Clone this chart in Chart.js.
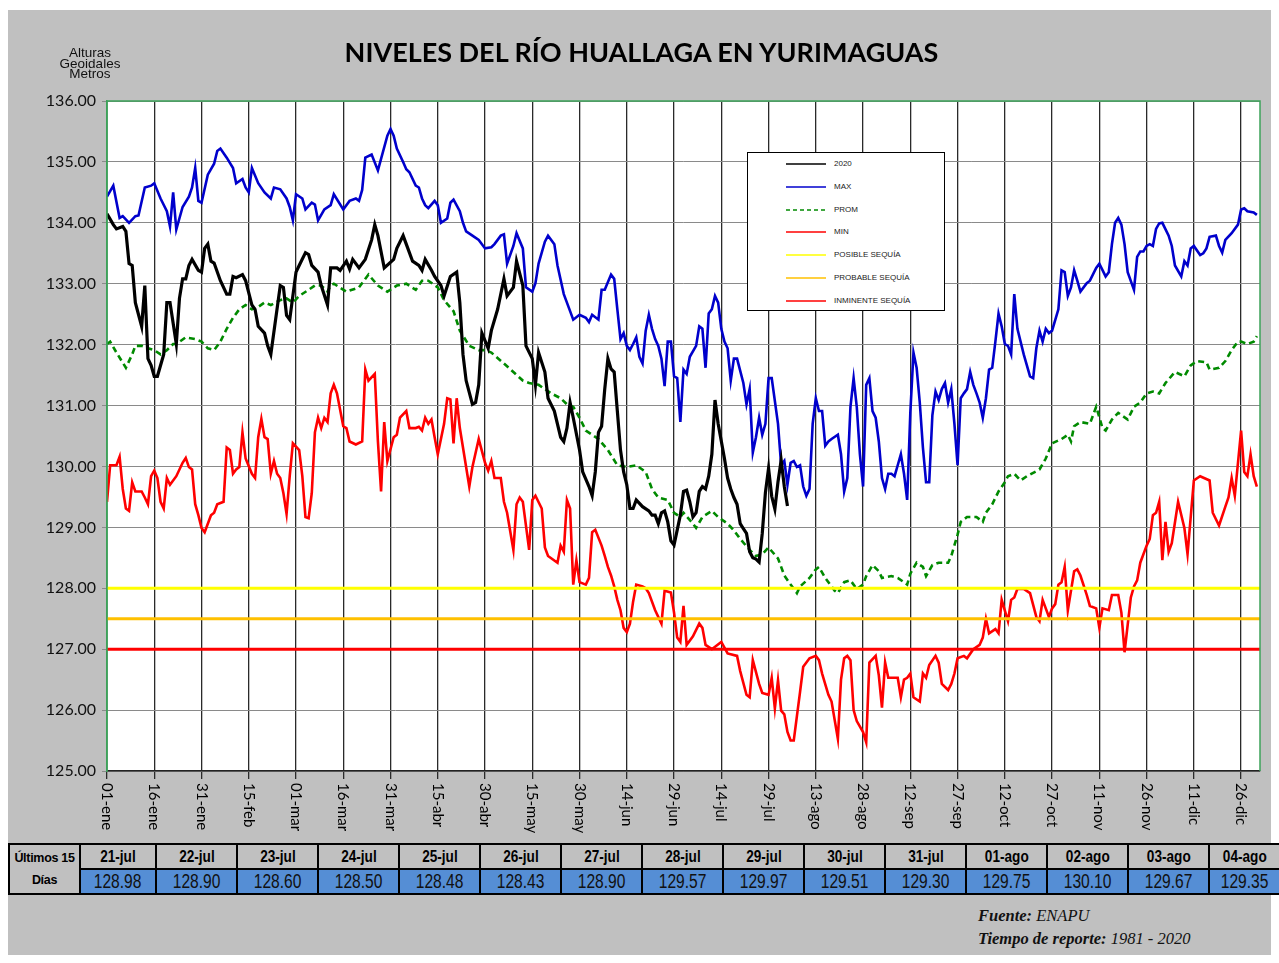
<!DOCTYPE html>
<html lang="es">
<head>
<meta charset="utf-8">
<title>Niveles del Río Huallaga en Yurimaguas</title>
<script src="https://cdn.jsdelivr.net/npm/chart.js@4.4.1/dist/chart.umd.min.js"></script>
<style>
    html, body { margin: 0; padding: 0; background: #fff; }
    #hoja { position: relative; width: 1279px; height: 963px; overflow: hidden; }
    #fondo { position: absolute; left: 8px; top: 10px; width: 1263px; height: 945px; background: #c0c0c0; }
    #grafico { position: absolute; left: 0; top: 0; }
    #titulo {
        position: absolute; left: 0; top: 35px; width: 1283px; text-align: center;
        font-family: Lato, "Open Sans", sans-serif; font-weight: bold; font-size: 27px; color: #000;
    }
    #unidades {
        position: absolute; left: 40px; top: 48px; width: 100px; text-align: center;
        font-family: "Liberation Sans", Arial, sans-serif; font-size: 13.5px; line-height: 10.5px; color: #111;
    }
    #leyenda {
        position: absolute; left: 747px; top: 152px; width: 196px; height: 157px;
        background: #fff; border: 1.5px solid #000;
    }
    .item { position: absolute; left: 0; height: 12px; width: 196px; }
    .item svg { position: absolute; left: 38px; top: 0; }
    .item span {
        position: absolute; left: 86px; top: 1px; font-family: "Liberation Sans", Arial, sans-serif;
        font-size: 8px; color: #222; white-space: nowrap;
    }
    #tabla {
        position: absolute; left: 8px; top: 843px; border-collapse: collapse; table-layout: fixed;
        font-family: "Liberation Sans", Arial, sans-serif;
    }
    #tabla td { border: 2px solid #000; padding: 0; text-align: center; overflow: hidden; white-space: nowrap; }
    #tabla td span { display: inline-block; }
    #tabla tr.fechas td { background: #c0c0c0; font-weight: bold; font-size: 16px; height: 23px; }
    #tabla tr.fechas td span { transform: scaleX(0.85); }
    #tabla tr.valores td { background: #558ed5; font-size: 20px; height: 23px; color: #111; }
    #tabla tr.valores td span { transform: scaleX(0.78); }
    #tabla tr.fechas td.cabecera { font-size: 12.5px; line-height: 22px; letter-spacing: -0.3px; }
    #fuente {
        position: absolute; left: 978px; top: 904px; font-family: "Liberation Serif", "Times New Roman", serif;
        font-style: italic; font-size: 16.5px; line-height: 23px; color: #111;
    }
</style>
</head>
<body>
<div id="hoja">
    <div id="fondo"></div>
    <canvas id="grafico" width="1279" height="840"></canvas>
    <div id="titulo">NIVELES DEL RÍO HUALLAGA EN YURIMAGUAS</div>
    <div id="unidades">Alturas<br>Geoidales<br>Metros</div>
    <div id="leyenda"></div>
    <table id="tabla"></table>
    <div id="fuente"><b>Fuente:</b> ENAPU<br><b>Tiempo de reporte:</b> 1981 - 2020</div>
</div>
<script>
// dia del año (0 = 01-ene) y nivel en metros
const diasMax = [0,2,4,5,7,9,10,12,14,15,17,19,20,21,22,24,26,27,28,29,30,32,34,35,36,38,40,41,43,44,45,46,48,50,52,53,55,57,58,59,60,62,63,65,66,67,69,71,72,
    75,77,79,80,81,82,84,86,89,90,91,92,94,95,96,98,99,100,101,102,104,105,106,108,109,110,112,113,114,116,118,120,122,123,125,126,127,129,130,132,133,135,136,137,139,140,142,143,145,147,
    148,150,152,153,154,156,157,158,160,161,162,163,164,165,166,167,168,169,170,171,172,173,174,175,176,177,178,179,180,181,182,183,184,185,187,188,189,190,191,192,193,194,195,196,197,198,199,200,202,203,204,205,206,207,208,209,210,211,213,214,215,216,217,218,219,
    220,221,222,223,224,225,226,227,228,229,230,232,233,234,235,236,237,238,239,240,241,242,243,244,245,246,247,248,249,250,251,252,253,254,255,256,257,258,259,260,261,262,263,264,265,266,267,268,269,270,271,272,273,274,275,276,277,278,279,280,281,282,283,284,285,286,287,288,289,290,291,
    293,294,295,296,297,298,299,300,302,303,304,305,306,307,308,309,311,312,314,315,317,318,319,320,321,322,323,324,326,327,328,329,330,331,332,333,334,335,337,338,339,341,342,343,344,345,347,348,349,350,352,353,354,355,357,359,360,361,362,364,365];
const nivelesMax = [134.43,134.61,134.08,134.11,134.0,134.11,134.12,134.58,134.61,134.65,134.4,134.19,133.94,134.5,133.89,134.26,134.43,134.58,134.9,134.36,134.33,134.79,134.97,135.18,135.22,135.07,134.9,134.65,134.72,134.58,134.5,134.9,134.65,134.5,134.4,134.58,134.55,134.4,134.26,134.04,134.47,134.4,134.22,134.33,134.3,134.04,134.22,134.29,134.47,
    134.22,134.36,134.4,134.36,134.54,135.07,135.12,134.86,135.43,135.54,135.43,135.22,135.0,134.88,134.83,134.61,134.58,134.4,134.29,134.24,134.36,134.29,134.0,134.07,134.33,134.38,134.19,134.0,133.86,133.79,133.72,133.58,133.6,133.65,133.79,133.81,133.33,133.62,133.83,133.58,132.94,132.87,133.01,133.33,133.69,133.79,133.65,133.3,132.83,132.55,
    132.41,132.49,132.44,132.37,132.49,132.41,132.9,132.9,133.15,133.08,132.58,132.09,132.19,131.98,131.91,132.01,132.12,131.8,131.69,132.23,132.49,132.26,132.09,131.98,131.77,131.32,132.05,132.05,131.48,131.45,130.73,131.59,131.52,131.8,131.98,132.3,132.26,131.62,132.51,132.58,132.8,132.69,132.26,132.05,131.94,131.41,131.77,131.77,131.37,131.02,131.27,130.23,130.48,130.8,130.52,130.7,131.45,131.45,130.7,130.02,130.09,129.7,130.06,130.09,129.99,
    130.02,129.67,129.52,129.63,130.7,131.12,130.91,130.91,130.34,130.41,130.45,130.52,130.2,129.59,129.81,130.98,131.45,130.98,130.2,129.67,131.34,131.45,130.91,130.8,130.41,129.81,129.63,129.88,129.88,129.84,130.02,130.2,129.88,129.45,130.88,131.87,131.62,131.05,130.31,129.74,129.74,130.84,131.23,131.09,131.27,131.37,131.05,131.27,130.7,130.02,131.12,131.2,131.27,131.55,131.34,131.2,131.05,130.8,131.12,131.59,131.62,132.05,132.51,132.3,132.01,131.98,131.84,132.83,132.26,132.05,131.84,
    131.48,131.45,131.94,132.23,132.05,132.26,132.19,132.23,132.58,133.22,133.19,132.8,132.94,133.22,133.05,132.87,133.01,133.05,133.26,133.33,133.12,133.19,133.65,134.0,134.08,133.97,133.65,133.19,132.9,133.44,133.53,133.53,133.62,133.65,133.62,133.9,133.99,134.0,133.79,133.62,133.3,133.12,133.37,133.3,133.58,133.62,133.47,133.5,133.58,133.77,133.79,133.62,133.51,133.72,133.83,133.97,134.22,134.24,134.19,134.17,134.13];

const diasProm = [0,1,3,6,8,9,11,13,15,17,19,21,22,25,28,30,32,34,36,38,40,42,44,46,48,50,52,55,57,59,61,64,66,68,70,71,
    72,76,80,83,86,89,92,95,98,100,102,105,107,110,112,115,118,120,122,126,129,132,134,137,141,144,
    146,148,150,152,156,159,162,165,168,171,173,175,178,180,182,183,186,187,189,192,194,197,199,201,204,206,208,210,213,215,217,219,
    220,223,225,226,228,231,232,234,236,238,240,241,243,245,246,249,251,253,254,255,257,259,260,262,264,267,268,270,271,273,276,278,279,281,283,285,286,288,290,
    292,296,298,300,303,305,306,307,309,312,314,316,317,319,321,324,326,328,330,332,334,336,339,342,344,346,349,350,353,355,357,359,360,362,364,365];
const nivelesProm = [132.01,132.05,131.87,131.62,131.84,131.98,131.98,131.94,131.91,131.84,131.91,132.01,132.01,132.12,132.09,132.05,131.94,131.91,132.05,132.26,132.44,132.58,132.65,132.58,132.62,132.69,132.65,132.73,132.76,132.69,132.8,132.9,132.97,132.97,132.87,132.97,
    133.0,132.87,132.94,133.15,132.97,132.87,132.97,133.0,132.9,133.05,133.05,132.94,132.73,132.55,132.23,131.98,131.91,131.91,131.87,131.69,131.55,131.41,131.37,131.34,131.2,131.12,
    131.02,130.98,130.8,130.59,130.45,130.27,130.02,129.99,130.02,129.91,129.63,129.49,129.45,129.24,129.17,129.24,129.06,128.99,129.17,129.27,129.17,129.06,128.95,128.81,128.63,128.53,128.56,128.67,128.49,128.21,128.06,127.92,
    128.03,128.17,128.31,128.35,128.17,127.96,127.92,128.1,128.13,127.99,128.06,128.2,128.38,128.28,128.17,128.2,128.17,128.1,128.06,128.24,128.42,128.35,128.2,128.38,128.42,128.42,128.53,128.88,129.09,129.17,129.17,129.09,129.24,129.38,129.59,129.74,129.84,129.88,129.77,
    129.84,129.95,130.13,130.38,130.45,130.52,130.41,130.66,130.73,130.7,130.98,130.63,130.59,130.77,130.88,130.77,130.98,131.05,131.2,131.23,131.2,131.37,131.55,131.48,131.66,131.73,131.71,131.59,131.62,131.73,131.91,132.05,132.05,132.01,132.05,132.14];

const diasMin = [0,1,3,4,5,6,7,8,9,11,12,13,14,15,16,17,18,19,20,22,24,25,26,27,28,29,30,31,33,34,35,37,38,39,40,41,42,43,44,46,47,48,49,50,51,52,53,54,55,56,57,58,59,61,62,63,64,65,66,67,68,69,70,71,72,73,
    75,76,77,79,81,82,83,85,86,87,88,89,91,92,93,95,96,98,99,100,101,102,103,104,105,107,108,109,110,111,112,115,116,118,120,121,122,123,125,126,127,129,130,131,132,134,135,136,138,139,140,143,144,145,146,
    147,148,149,150,152,153,154,155,157,158,159,160,161,162,163,164,165,166,167,168,170,171,172,174,176,177,179,180,181,182,183,184,186,188,189,190,192,195,197,200,201,203,204,205,207,208,210,211,212,213,214,215,
    216,217,218,219,220,221,222,223,225,226,227,229,230,232,233,234,235,236,237,238,240,241,242,244,245,246,247,248,251,252,253,254,255,256,258,259,260,261,263,264,265,267,268,269,270,272,273,275,277,278,279,280,282,283,284,286,287,288,289,291,293,
    295,296,297,299,300,301,302,303,304,305,307,308,309,311,312,314,315,316,318,319,321,322,323,325,326,327,328,330,331,332,333,334,335,336,337,338,340,342,343,345,347,350,351,353,355,356,357,358,360,361,362,363,364,365];
const nivelesMin = [129.42,130.02,130.02,130.16,129.63,129.31,129.27,129.74,129.59,129.59,129.49,129.38,129.84,129.93,129.81,129.42,129.31,129.81,129.7,129.84,130.06,130.14,129.99,129.95,129.38,129.2,128.99,128.92,129.2,129.24,129.38,129.42,130.31,130.27,129.88,129.95,129.99,130.56,130.13,129.88,129.81,130.48,130.78,130.48,130.45,129.88,130.09,129.88,129.81,129.56,129.22,129.84,130.38,130.27,129.84,129.17,129.15,129.56,130.56,130.8,130.63,130.8,130.73,131.2,131.34,131.2,
    130.66,130.63,130.41,130.36,130.41,131.59,131.41,131.52,130.41,129.59,130.73,130.09,130.48,130.52,130.8,130.91,130.63,130.63,130.65,130.59,130.8,130.7,130.77,130.48,130.2,130.7,131.12,131.1,130.38,131.12,130.63,129.67,129.99,130.45,130.06,129.93,130.09,129.81,129.81,129.42,129.24,128.63,129.38,129.49,129.42,128.63,129.45,129.52,129.31,128.67,128.53,128.42,128.7,128.6,129.45,
    129.31,128.06,128.46,128.1,128.06,128.17,128.92,128.96,128.7,128.53,128.35,128.21,128.03,127.81,127.64,127.35,127.28,127.42,127.78,128.06,128.03,128.0,127.92,127.64,127.42,127.96,127.93,127.6,127.19,127.12,127.71,127.07,127.21,127.42,127.35,127.07,127.0,127.12,126.93,126.89,126.64,126.25,126.21,126.82,126.43,126.28,126.25,126.53,126.03,126.49,125.99,125.93,
    125.64,125.5,125.5,125.9,126.3,126.71,126.78,126.85,126.89,126.82,126.6,126.25,126.14,125.53,126.5,126.85,126.89,126.82,126.0,125.82,125.64,125.47,126.78,126.89,126.57,126.04,126.78,126.53,126.53,126.21,126.5,126.53,126.6,126.21,126.14,126.6,126.53,126.74,126.89,126.78,126.43,126.33,126.43,126.6,126.85,126.89,126.85,127.0,127.07,127.19,127.5,127.26,127.33,127.26,127.81,127.46,127.81,127.85,127.99,127.99,127.92,
    127.53,127.46,127.81,127.53,127.67,127.74,128.06,128.1,128.35,127.64,128.28,128.31,128.21,127.89,127.71,127.67,127.35,127.67,127.64,127.89,127.89,127.6,126.95,127.85,128.03,128.13,128.42,128.7,128.81,129.2,129.24,129.42,128.46,129.09,128.6,128.74,129.42,128.99,128.56,129.77,129.84,129.77,129.24,129.03,129.34,129.49,129.81,129.52,130.59,129.91,129.84,130.2,129.84,129.67];

const dias2020 = [0,2,3,5,6,7,8,9,11,12,13,14,15,16,18,19,20,22,23,24,25,26,27,29,30,31,32,33,34,36,38,39,40,41,43,44,46,47,48,50,51,52,55,56,57,58,60,61,63,64,65,67,68,70,71,
    73,74,76,77,78,80,82,84,85,86,88,91,92,94,95,97,99,100,101,103,104,106,107,109,111,112,113,114,116,117,118,119,121,122,124,126,127,129,130,132,133,135,136,137,139,140,142,144,145,146,
    147,148,150,151,153,154,155,156,157,158,159,160,161,162,163,164,165,166,167,168,170,172,173,174,175,176,177,178,179,180,182,183,184,185,186,187,188,189,190,191,192,193,194,196,197,198,199,200,201];
const niveles2020 = [134.15,133.97,133.9,133.94,133.86,133.33,133.3,132.69,132.3,132.97,131.77,131.66,131.48,131.48,131.84,132.69,132.69,132.01,132.76,133.08,133.08,133.3,133.4,133.22,133.19,133.58,133.65,133.37,133.34,133.05,132.83,132.83,133.12,133.1,133.15,133.05,132.65,132.58,132.3,132.19,131.98,131.84,132.97,132.94,132.48,132.41,133.19,133.3,133.51,133.48,133.3,133.19,132.97,132.65,133.26,
    133.26,133.22,133.37,133.24,133.4,133.26,133.4,133.72,133.97,133.79,133.26,133.4,133.58,133.79,133.65,133.37,133.3,133.22,133.4,133.22,133.12,132.97,132.8,133.12,133.19,132.69,131.84,131.41,131.02,131.05,131.34,132.19,131.94,132.23,132.58,133.08,132.8,132.94,133.37,132.97,131.98,131.77,131.34,131.87,131.55,131.12,130.91,130.48,130.41,130.63,
    131.05,130.8,130.27,129.91,129.67,129.52,129.91,130.56,130.66,131.27,131.77,131.6,131.55,130.91,130.27,129.91,129.7,129.31,129.31,129.45,129.34,129.27,129.2,129.2,129.06,129.24,129.27,129.09,128.78,128.71,129.2,129.59,129.61,129.42,129.17,129.24,129.59,129.67,129.63,129.84,130.2,131.09,130.7,130.13,129.81,129.63,129.49,129.38,129.06];

// ultimos 15 dias (tabla inferior)
const fechasUltimos15 = ['21-jul','22-jul','23-jul','24-jul','25-jul','26-jul','27-jul','28-jul','29-jul','30-jul','31-jul','01-ago','02-ago','03-ago','04-ago'];
const diasUltimos15 = [202,203,204,205,206,207,208,209,210,211,212,213,214,215,216];
const nivelesUltimos15 = [128.98,128.90,128.60,128.50,128.48,128.43,128.90,129.57,129.97,129.51,129.30,129.75,130.10,129.67,129.35];

// umbrales de sequia
const nombresUmbral = ['POSIBLE SEQUÍA', 'PROBABLE SEQUÍA', 'INMINENTE SEQUÍA'];
const nivelesUmbral = [128.0, 127.5, 127.0];
const coloresUmbral = ['#ffff00', '#ffc000', '#ff0000'];
const diasExtremos = [0, 366];

const etiquetasX = ['01-ene','16-ene','31-ene','15-feb','01-mar','16-mar','31-mar','15-abr','30-abr','15-may','30-may','14-jun',
    '29-jun','14-jul','29-jul','13-ago','28-ago','12-sep','27-sep','12-oct','27-oct','11-nov','26-nov','11-dic','26-dic'];

function pares(dias, valores) {
    return dias.map((d, i) => ({ x: d, y: valores[i] }));
}

const datasets = [
    { label: '2020', data: pares(dias2020.concat(diasUltimos15), niveles2020.concat(nivelesUltimos15)),
      borderColor: '#000000', borderWidth: 3.2, order: 1 },
    { label: 'MAX', data: pares(diasMax, nivelesMax), borderColor: '#0000cc', borderWidth: 2.6, order: 4 },
    { label: 'PROM', data: pares(diasProm, nivelesProm), borderColor: '#008a00', borderWidth: 2.6,
      borderDash: [6, 4], order: 3 },
    { label: 'MIN', data: pares(diasMin, nivelesMin), borderColor: '#ff0000', borderWidth: 2.6, order: 2 }
];
nombresUmbral.forEach((nombre, i) => {
    datasets.push({
        label: nombre,
        data: diasExtremos.map(d => ({ x: d, y: nivelesUmbral[i] })),
        borderColor: coloresUmbral[i], borderWidth: 3, order: 0
    });
});
datasets.forEach(ds => {
    ds.pointRadius = 0;
    ds.pointHoverRadius = 0;
    ds.fill = false;
    ds.tension = 0;
});

const marcoPlugin = {
    id: 'marco',
    beforeDraw(chart) {
        const { ctx, chartArea: a } = chart;
        ctx.save();
        ctx.fillStyle = '#ffffff';
        ctx.fillRect(a.left, a.top, a.right - a.left, a.bottom - a.top);
        ctx.restore();
    },
    afterDraw(chart) {
        const { ctx, chartArea: a, scales } = chart;
        const x = scales.x;
        ctx.save();
        ctx.strokeStyle = '#3ca35a';
        ctx.lineWidth = 1.5;
        ctx.beginPath();
        ctx.moveTo(a.left, a.bottom);
        ctx.lineTo(a.left, a.top);
        ctx.lineTo(a.right, a.top);
        ctx.lineTo(a.right, a.bottom);
        ctx.stroke();
        // etiquetas del eje x giradas hacia abajo
        ctx.fillStyle = '#000';
        ctx.font = '15px Lato, "Open Sans", sans-serif';
        ctx.textAlign = 'left';
        ctx.textBaseline = 'middle';
        x.ticks.forEach(t => {
            const px = x.getPixelForValue(t.value);
            ctx.save();
            ctx.translate(px, a.bottom + 12);
            ctx.rotate(Math.PI / 2);
            ctx.fillText(etiquetasX[Math.round(t.value / 15)], 0, 0);
            ctx.restore();
        });
        ctx.restore();
    }
};

const chart = new Chart(document.getElementById('grafico'), {
    type: 'line',
    data: { datasets },
    options: {
        responsive: false,
        animation: false,
        devicePixelRatio: 1,
        layout: { padding: { top: 101, right: 19, left: 0, bottom: 0 } },
        plugins: { legend: { display: false }, tooltip: { enabled: false } },
        scales: {
            x: {
                type: 'linear', min: 0, max: 366,
                afterBuildTicks: s => { s.ticks = etiquetasX.map((_, i) => ({ value: i * 15 })); },
                afterFit: s => { s.height = 69; },
                ticks: { stepSize: 15, display: false },
                grid: { color: '#2a2a2a', lineWidth: 1.3, tickLength: 8 },
                border: { color: '#222', width: 1.5 }
            },
            y: {
                min: 125, max: 136,
                afterFit: s => { s.width = 107; },
                ticks: {
                    stepSize: 1, color: '#111', padding: 6,
                    font: { family: 'Lato, "Open Sans", sans-serif', size: 16 },
                    callback: v => v.toFixed(2)
                },
                grid: { color: '#8a8a8a', lineWidth: 1, tickLength: 5 },
                border: { color: '#3ca35a', width: 1.5 }
            }
        }
    },
    plugins: [marcoPlugin]
});

// leyenda
const leyenda = document.getElementById('leyenda');
chart.data.datasets.forEach((ds, i) => {
    const item = document.createElement('div');
    item.className = 'item';
    item.style.top = (5 + i * 22.8) + 'px';
    const dash = ds.borderDash ? 'stroke-dasharray="4 3"' : '';
    item.innerHTML = `<svg width="42" height="12"><line x1="0" y1="6" x2="40" y2="6" stroke="${ds.borderColor}" stroke-width="1.5" ${dash}/></svg><span>${ds.label}</span>`;
    leyenda.appendChild(item);
});

// tabla de ultimos 15 dias
const tabla = document.getElementById('tabla');
const anchos = [71, 76, 81, 81, 81, 81, 81, 81, 81, 81, 81, 81, 81, 81, 81, 71];
let html = '<colgroup>' + anchos.map(w => `<col style="width:${w}px">`).join('') + '</colgroup>';
html += '<tr class="fechas"><td class="cabecera" rowspan="2">Últimos 15<br>Días</td>'
    + fechasUltimos15.map(f => `<td><span>${f}</span></td>`).join('') + '</tr>';
html += '<tr class="valores">' + nivelesUltimos15.map(v => `<td><span>${v.toFixed(2)}</span></td>`).join('') + '</tr>';
tabla.innerHTML = html;
tabla.style.width = anchos.reduce((a, b) => a + b, 0) + 'px';
</script>
</body>
</html>
